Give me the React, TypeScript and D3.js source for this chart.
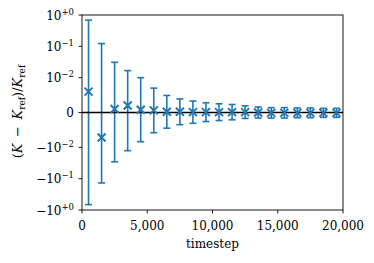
import React from 'react';
import * as d3 from 'd3';

const steps = [500, 1500, 2500, 3500, 4500, 5500, 6500, 7500, 8500, 9500, 10500, 11500, 12500, 13500, 14500, 15500, 16500, 17500, 18500, 19500];
const means = [0.006, -0.0072, 0.001, 0.002, 0.0008, 0.0006, 0.0002, 0.0002, 0.0001, 0.0001, 0.0001, 0.0001, 0.0001, 0.0, -0.0001, -0.0001, -0.0001, -0.0001, -0.0001, -0.0001];
const errs = [0.68, 0.13, 0.03, 0.0148, 0.0092, 0.0064, 0.0047, 0.0037, 0.0032, 0.0027, 0.0024, 0.0022, 0.0018, 0.0016, 0.0015, 0.0015, 0.0014, 0.0014, 0.0013, 0.0013];

const xTicks = [0, 5000, 10000, 15000, 20000];
const yTicks: { v: number; sign: string; exp: string }[] = [
  { v: 1, sign: '', exp: '+0' },
  { v: 0.1, sign: '', exp: '−1' },
  { v: 0.01, sign: '', exp: '−2' },
  { v: 0, sign: '', exp: '' },
  { v: -0.01, sign: '−', exp: '−2' },
  { v: -0.1, sign: '−', exp: '−1' },
  { v: -1, sign: '−', exp: '+0' },
];

// matplotlib-style symlog, linthresh 0.01, linscale 1
const linthresh = 0.01;
const linscaleAdj = 1 / (1 - 1 / 10);
const symlog = (v: number) => {
  const a = Math.abs(v);
  const s = Math.sign(v);
  if (a <= linthresh) return s * (a / linthresh) * linscaleAdj;
  return s * (linscaleAdj + Math.log10(a / linthresh));
};

const W = 374, H = 263;
const m = { left: 82, right: 343, top: 15, bottom: 210 };
const blue = '#1f77b4';
const font = '"DejaVu Serif", "Liberation Serif", serif';

export default function App() {
  const x = d3.scaleLinear().domain([0, 20000]).range([m.left, m.right]);
  const yl = d3.scaleLinear().domain([symlog(-1), symlog(1)]).range([m.bottom, m.top]);
  const y = (v: number) => yl(symlog(v));
  const fmt = d3.format(',');
  const ms = 4;
  const cap = 3.5;

  return (
    <svg width={W} height={H} style={{ position: 'absolute', left: 0, top: 0, background: '#fff' }} fontFamily={font}>
      {/* error bars */}
      {steps.map((s, i) => {
        const cx = x(s);
        const yt = y(means[i] + errs[i]);
        const yb = y(means[i] - errs[i]);
        return (
          <g key={'e' + i} stroke={blue} strokeWidth={1.6} fill="none">
            <line x1={cx} x2={cx} y1={yt} y2={yb} />
            <line x1={cx - cap} x2={cx + cap} y1={yt} y2={yt} />
            <line x1={cx - cap} x2={cx + cap} y1={yb} y2={yb} />
          </g>
        );
      })}
      {/* zero line */}
      <line x1={m.left} x2={m.right} y1={y(0)} y2={y(0)} stroke="#000" strokeWidth={1.5} />
      {/* markers */}
      {steps.map((s, i) => {
        const cx = x(s);
        const cy = y(means[i]);
        return (
          <g key={'m' + i} stroke={blue} strokeWidth={2}>
            <line x1={cx - ms} x2={cx + ms} y1={cy - ms} y2={cy + ms} />
            <line x1={cx - ms} x2={cx + ms} y1={cy + ms} y2={cy - ms} />
          </g>
        );
      })}
      {/* frame */}
      <rect x={m.left} y={m.top} width={m.right - m.left} height={m.bottom - m.top} fill="none" stroke="#000" strokeWidth={0.9} />
      {/* x ticks */}
      {xTicks.map(t => (
        <g key={'x' + t}>
          <line x1={x(t)} x2={x(t)} y1={m.bottom} y2={m.bottom + 3.5} stroke="#000" strokeWidth={0.9} />
          <text x={x(t)} y={m.bottom + 20} textAnchor="middle" fontSize={12} fill="#000">{fmt(t)}</text>
        </g>
      ))}
      <text x={(m.left + m.right) / 2} y={248} textAnchor="middle" fontSize={12} fill="#000">timestep</text>
      {/* y ticks */}
      {yTicks.map(t => (
        <g key={'y' + t.v}>
          <line x1={m.left - 3.5} x2={m.left} y1={y(t.v)} y2={y(t.v)} stroke="#000" strokeWidth={0.9} />
          <text x={m.left - 8} y={y(t.v) + 4.5} textAnchor="end" fontSize={12} fill="#000">
            {t.exp === '' ? '0' : (
              <>
                {t.sign}10
                <tspan dy={-5} fontSize={8.5}>{t.exp}</tspan>
              </>
            )}
          </text>
        </g>
      ))}
      {/* y label */}
      <text transform={`translate(22,${(m.top + m.bottom) / 2 - 1}) rotate(-90)`} textAnchor="middle" fontSize={13} fill="#000">
        (<tspan fontStyle="italic">K</tspan>{'\u2002−\u2002'}<tspan fontStyle="italic">K</tspan>
        <tspan dy={3} fontSize={9}>ref</tspan>
        <tspan dy={-3}>)/</tspan>
        <tspan fontStyle="italic">K</tspan>
        <tspan dy={3} fontSize={9}>ref</tspan>
      </text>
    </svg>
  );
}
